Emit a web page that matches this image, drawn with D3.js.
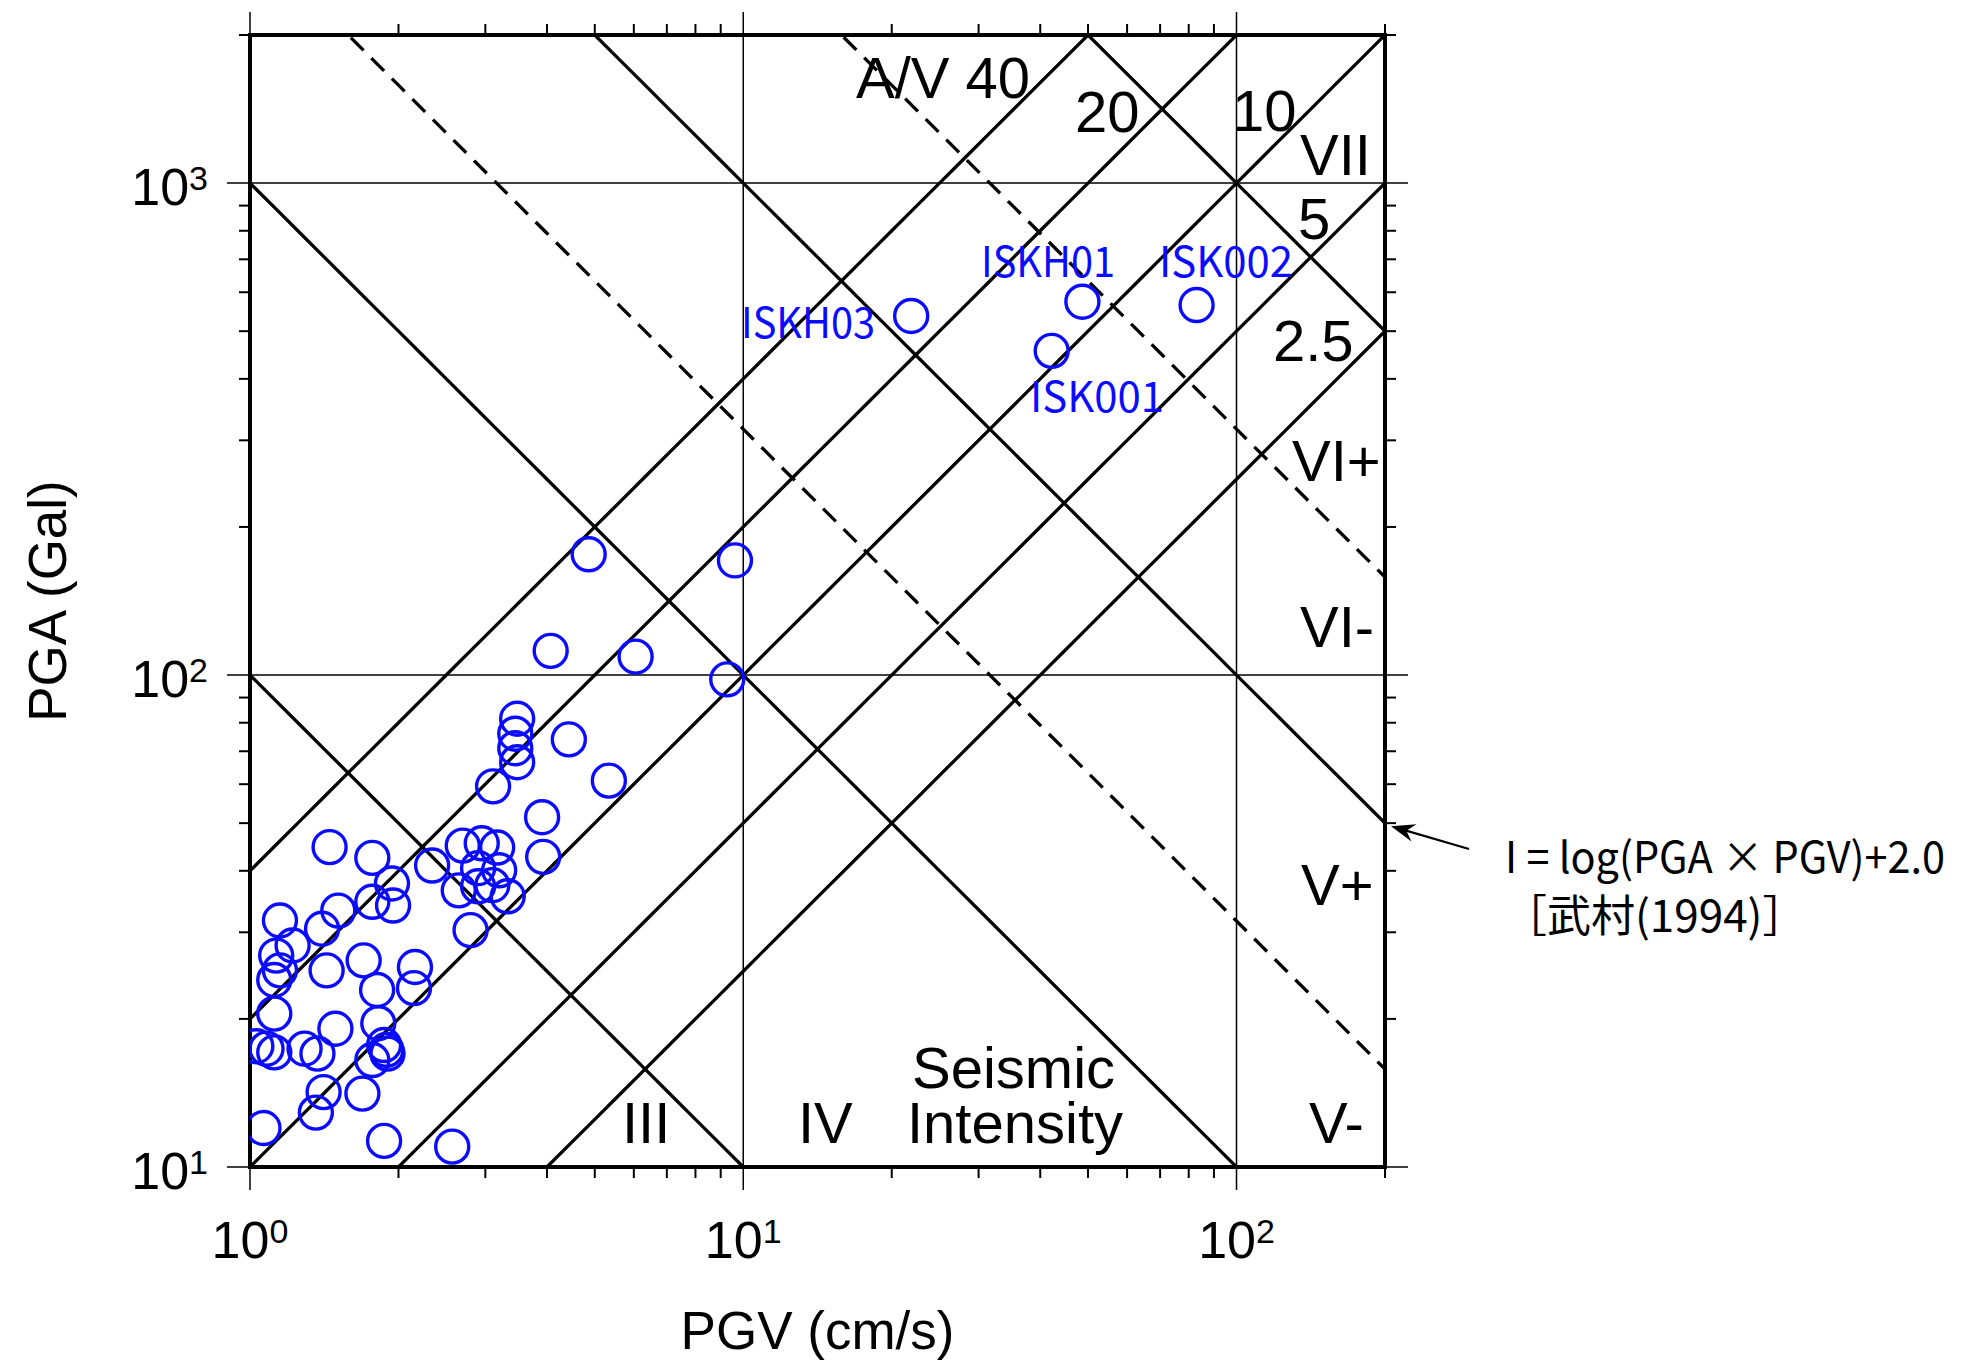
<!DOCTYPE html>
<html><head><meta charset="utf-8">
<script src="https://cdn.jsdelivr.net/npm/d3@7"></script>
<style>body{margin:0;background:#fff;} svg{display:block;background:#fff}</style>
</head><body>
<svg id="chart" width="1978" height="1369"></svg>
<script>
// ---------------- data ----------------
const pgv = [4.86, 9.62, 4.07, 6.05, 9.28, 3.48, 3.45, 3.45, 3.48, 4.43,
             5.34, 3.11, 3.91, 3.93, 1.45, 1.77, 2.34, 1.94, 1.77, 1.95,
             1.51, 1.15, 1.40, 1.22, 1.13, 1.15, 1.12, 1.43, 1.70, 2.16,
             1.81, 2.15, 2.80, 2.70, 2.95, 3.17, 3.20, 2.90, 2.65, 2.90,
             3.10, 3.33, 1.12, 1.49, 1.82, 1.08, 1.12, 1.03, 1.29, 1.37,
             1.87, 1.89, 1.90, 1.77, 1.41, 1.69, 1.36, 1.065, 1.87, 2.57];
const pga = [176, 171, 112, 109, 98, 81.5, 76, 71, 66.5, 74,
             61, 59.4, 51.4, 42.7, 44.7, 42.5, 41.0, 37.7, 34.6, 34.0,
             33.2, 31.7, 30.5, 28.2, 26.9, 25.1, 24.0, 25.1, 26.3, 25.5,
             22.9, 23.1, 30.3, 45.0, 45.5, 44.6, 40.1, 40.5, 36.5, 37.2,
             37.4, 35.5, 20.5, 19.1, 19.6, 17.4, 17.1, 17.6, 17.4, 17.0,
             17.7, 17.3, 17.0, 16.5, 14.2, 14.1, 12.9, 12.0, 11.3, 11.0];

const stationNames = ["ISKH03", "ISKH01", "ISK002", "ISK001"];
const stationPGV = [21.9, 48.7, 83.0, 42.2];
const stationPGA = [537, 574, 565, 456];

const avRatios = [40, 20, 10, 5, 2.5];                 // A/V constant lines
const avLabels = ["A/V 40", "20", "10", "5", "2.5"];
const solidProducts = [1e2, 1e3, 1e4, 1e5];           // PGA x PGV constant
const dashedProducts = [Math.pow(10, 3.5), Math.pow(10, 4.5)];
const intensityLabels = ["VII", "VI+", "VI-", "V+", "V-", "IV", "III"];

const xDomain = [1, 200];
const yDomain = [10, 2000];
const xMajor = [1, 10, 100];
const xMajorExp = ["0", "1", "2"];
const yMajor = [10, 100, 1000];
const yMajorExp = ["1", "2", "3"];
const xMinor = [2,3,4,5,6,7,8,9,20,30,40,50,60,70,80,90,200];
const yMinor = [20,30,40,50,60,70,80,90,200,300,400,500,600,700,800,900,2000];

const xTitle = "PGV (cm/s)";
const yTitle = "PGA (Gal)";
const formulaText = "I = log(PGA × PGV)+2.0";
const refText = "［武村(1994)］";

// ---------------- layout ----------------
const L = 250, R = 1385, T = 35, B = 1167;
const svg = d3.select("#chart");
const x = d3.scaleLog().domain(xDomain).range([L, R]);
const y = d3.scaleLog().domain(yDomain).range([B, T]);
const helv = "'Liberation Sans', Arial, Helvetica, sans-serif";
const cjk = "'Noto Sans CJK JP', 'Noto Sans', sans-serif";

svg.append("defs").append("clipPath").attr("id", "plotclip")
  .append("rect").attr("x", L).attr("y", T).attr("width", R - L).attr("height", B - T);

// gridlines + major ticks (extend outside frame)
const majLen = 23, minLen = 11;
const g = svg.append("g");
xMajor.forEach(v => {
  g.append("line").attr("x1", x(v)).attr("x2", x(v)).attr("y1", T - majLen).attr("y2", B + majLen)
    .attr("stroke", "#000").attr("stroke-width", 1.5);
});
yMajor.forEach(v => {
  g.append("line").attr("y1", y(v)).attr("y2", y(v)).attr("x1", L - majLen).attr("x2", R + majLen)
    .attr("stroke", "#000").attr("stroke-width", 1.5);
});
// minor ticks
xMinor.forEach(v => {
  g.append("line").attr("x1", x(v)).attr("x2", x(v)).attr("y1", B).attr("y2", B + minLen)
    .attr("stroke", "#000").attr("stroke-width", 2);
  g.append("line").attr("x1", x(v)).attr("x2", x(v)).attr("y1", T).attr("y2", T - minLen)
    .attr("stroke", "#000").attr("stroke-width", 2);
});
yMinor.forEach(v => {
  g.append("line").attr("y1", y(v)).attr("y2", y(v)).attr("x1", L).attr("x2", L - minLen)
    .attr("stroke", "#000").attr("stroke-width", 2);
  g.append("line").attr("y1", y(v)).attr("y2", y(v)).attr("x1", R).attr("x2", R + minLen)
    .attr("stroke", "#000").attr("stroke-width", 2);
});

// diagonal lines
const span = d3.range(0, 161).map(i => Math.pow(10, -4 + i * 0.05));
const lineGen = d3.line().x(d => x(d[0])).y(d => y(d[1]));
const diag = svg.append("g").attr("clip-path", "url(#plotclip)");
avRatios.forEach(r => {
  diag.append("path").attr("d", lineGen(span.map(v => [v, r * v])))
    .attr("fill", "none").attr("stroke", "#000").attr("stroke-width", 3.3);
});
solidProducts.forEach(p => {
  diag.append("path").attr("d", lineGen(span.map(v => [v, p / v])))
    .attr("fill", "none").attr("stroke", "#000").attr("stroke-width", 3.3);
});
dashedProducts.forEach(p => {
  diag.append("path").attr("d", lineGen(span.map(v => [v, p / v])))
    .attr("fill", "none").attr("stroke", "#000").attr("stroke-width", 3.3)
    .attr("stroke-dasharray", "18,11");
});

// frame
svg.append("rect").attr("x", L).attr("y", T).attr("width", R - L).attr("height", B - T)
  .attr("fill", "none").attr("stroke", "#000").attr("stroke-width", 4);

// tick labels
xMajor.forEach((v, i) => {
  const t = svg.append("text").attr("x", x(v)).attr("y", 1258)
    .attr("text-anchor", "middle").attr("font-family", helv).attr("font-size", 52);
  t.append("tspan").text("10");
  t.append("tspan").attr("dy", -15).attr("font-size", 34).text(xMajorExp[i]);
});
yMajor.forEach((v, i) => {
  const t = svg.append("text").attr("x", 208).attr("y", y(v) + 22)
    .attr("text-anchor", "end").attr("font-family", helv).attr("font-size", 52);
  t.append("tspan").text("10");
  t.append("tspan").attr("dy", -15).attr("font-size", 34).text(yMajorExp[i]);
});

// axis titles
svg.append("text").attr("x", (L + R) / 2).attr("y", 1349).attr("text-anchor", "middle")
  .attr("font-family", helv).attr("font-size", 53).text(xTitle);
svg.append("text").attr("transform", `translate(66,${(T + B) / 2}) rotate(-90)`)
  .attr("text-anchor", "middle").attr("font-family", helv).attr("font-size", 53).text(yTitle);

// in-plot labels (black)
const blackLabels = [
  [avLabels[0], 856, 98], [avLabels[1], 1075, 132], [avLabels[2], 1232, 131],
  [avLabels[3], 1298, 239], [avLabels[4], 1273, 361],
  [intensityLabels[0], 1300, 175], [intensityLabels[1], 1292, 481], [intensityLabels[2], 1300, 647],
  [intensityLabels[3], 1301, 905], [intensityLabels[4], 1309, 1143],
  [intensityLabels[5], 798, 1143], [intensityLabels[6], 622, 1143],
  ["Seismic", 912, 1088], ["Intensity", 907, 1143]
];
blackLabels.forEach(d => {
  svg.append("text").attr("x", d[1]).attr("y", d[2]).attr("font-family", helv)
    .attr("font-size", 58).attr("fill", "#000").text(d[0]);
});

// data circles
const blue = "#0b0bff";
const pts = svg.append("g").attr("clip-path", "url(#plotclip)");
pgv.forEach((v, i) => {
  pts.append("circle").attr("cx", x(v)).attr("cy", y(pga[i])).attr("r", 16.5)
    .attr("fill", "none").attr("stroke", blue).attr("stroke-width", 3.4);
});
stationPGV.forEach((v, i) => {
  pts.append("circle").attr("cx", x(v)).attr("cy", y(stationPGA[i])).attr("r", 16.5)
    .attr("fill", "none").attr("stroke", blue).attr("stroke-width", 3.4);
});

// station labels
const stationLabelPos = [[741, 338], [981, 277], [1159, 277], [1030, 412]];
stationNames.forEach((n, i) => {
  svg.append("text").attr("x", stationLabelPos[i][0]).attr("y", stationLabelPos[i][1])
    .attr("font-family", cjk).attr("font-size", 42).attr("fill", blue)
    .attr("textLength", 134).attr("lengthAdjust", "spacingAndGlyphs").text(n);
});

// annotation arrow + formula
const tip = [R + 6, y(1e4 / 200) + 3], tail = [1469, 849];
svg.append("line").attr("x1", tail[0]).attr("y1", tail[1]).attr("x2", tip[0] + 10).attr("y2", tip[1] + 3)
  .attr("stroke", "#000").attr("stroke-width", 2.2);
const dx = tip[0] - tail[0], dy = tip[1] - tail[1], len = Math.hypot(dx, dy);
const ux = dx / len, uy = dy / len, nx = -uy, ny = ux;
const ah = [
  [tip[0], tip[1]],
  [tip[0] - 24 * ux + 9 * nx, tip[1] - 24 * uy + 9 * ny],
  [tip[0] - 16 * ux, tip[1] - 16 * uy],
  [tip[0] - 24 * ux - 9 * nx, tip[1] - 24 * uy - 9 * ny]
];
svg.append("path").attr("d", "M" + ah.map(p => p.join(",")).join("L") + "Z").attr("fill", "#000");

svg.append("text").attr("x", 1505).attr("y", 873).attr("font-family", cjk)
  .attr("font-size", 43).attr("fill", "#000")
  .attr("textLength", 440).attr("lengthAdjust", "spacingAndGlyphs").text(formulaText);
svg.append("text").attr("x", 1503).attr("y", 932).attr("font-family", cjk)
  .attr("font-size", 44).attr("fill", "#000").text(refText);
</script>
</body></html>
